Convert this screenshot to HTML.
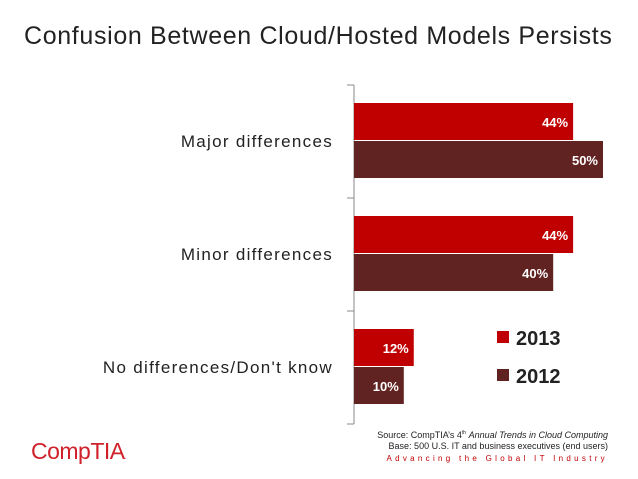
<!DOCTYPE html>
<html><head><meta charset="utf-8"><style>
body{margin:0;width:638px;height:479px;background:#fff;font-family:"Liberation Sans",sans-serif;overflow:hidden;position:relative}
sup{line-height:0}
</style></head><body>
<div style="position:absolute;left:24px;top:22px;font-size:25px;color:#222;letter-spacing:0.65px">Confusion Between Cloud/Hosted Models Persists</div>
<svg id="c" width="638" height="479" style="position:absolute;left:0;top:0"></svg>
<div style="position:absolute;left:31px;top:438px;font-size:23px;color:#d0202a;letter-spacing:-0.5px">CompTIA<span style="font-size:7px">.</span></div>
<div style="position:absolute;right:30px;top:430px;font-size:9px;color:#222;text-align:right;line-height:11px">Source: CompTIA’s 4<sup style="font-size:5px">th</sup> <i>Annual Trends in Cloud Computing</i><br>Base: 500 U.S. IT and business executives (end users)</div>
<div style="position:absolute;right:30px;top:454px;font-size:8px;color:#c00000;letter-spacing:3.3px">Advancing the Global IT Industry</div>
<script>
const categories=["Major differences","Minor differences","No differences/Don't know"];
const values2013=[44,44,12];
const values2012=[50,40,10];
const seriesNames=["2013","2012"];
const svg=document.getElementById('c');const NS='http://www.w3.org/2000/svg';
const x0=354,pxPer=4.98,top0=85,groupH=113;
const x=v=>x0+v*pxPer;
function el(t,a){const e=document.createElementNS(NS,t);for(const k in a)e.setAttribute(k,a[k]);svg.appendChild(e);return e;}
let ax=el('line',{x1:x0,y1:top0,x2:x0,y2:top0+groupH*3,stroke:'#888','stroke-width':1});


for(let i=0;i<=3;i++){let t=el('line',{x1:x0-7,x2:x0,y1:top0+i*groupH,y2:top0+i*groupH,stroke:'#888'});

}
const colors=['#c00000','#612322'];
categories.forEach((c,i)=>{
 const gy=top0+i*groupH;
 let lb=el('text',{x:333,y:gy+62,'text-anchor':'end','font-size':17,'letter-spacing':1.3,fill:'#222'});lb.textContent=c;
 
 
 [values2013[i],values2012[i]].forEach((v,j)=>{
  const y=gy+18+j*38;
  let r=el('rect',{x:x0,y:y,width:x(v)-x0,height:37,fill:colors[j]});
  
  
  let t=el('text',{x:x(v)-5,y:y+24,'text-anchor':'end','font-size':13,'font-weight':'bold',fill:'#fff'});t.textContent=v+'%';
  
  
 });
});
seriesNames.forEach((s,j)=>{
 let r=el('rect',{x:497,y:331+j*38,width:12,height:12,fill:colors[j]});
 
 
 let t=el('text',{x:516,y:345+j*38,'font-size':20,'font-weight':'bold',fill:'#222'});t.textContent=s;
 
 
});
</script>
</body></html>
